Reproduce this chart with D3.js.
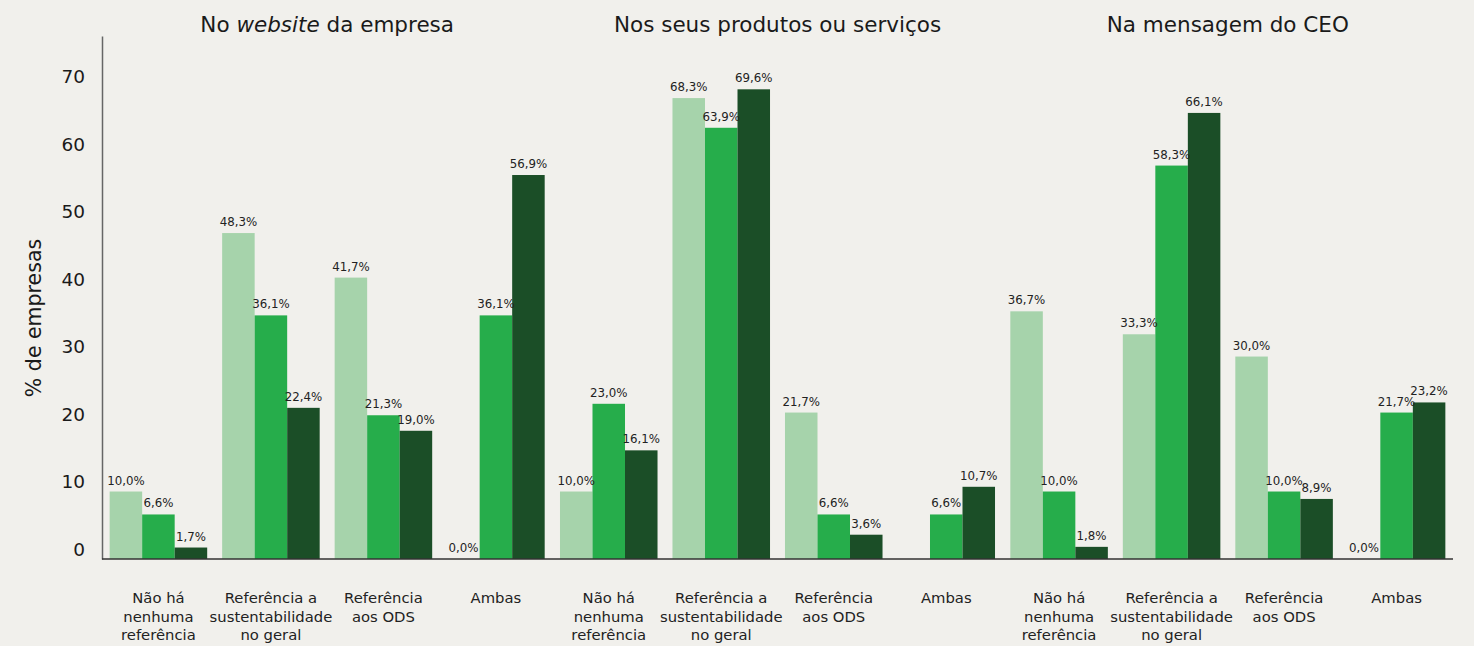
<!DOCTYPE html>
<html lang="pt">
<head>
<meta charset="utf-8">
<script src="https://cdn.jsdelivr.net/npm/d3@7"></script>
<style>
  html, body { margin: 0; padding: 0; background: #f1f0ec; }
  svg { display: block; font-family: "DejaVu Sans", "Noto Sans", sans-serif; }
</style>
</head>
<body>
<svg id="chart" width="1474" height="646"></svg>
<script>
// Panels (where the reference to sustainability appears)
const panels = ["website", "produtos", "ceo"];
// Category labels, one array of lines per category
const categories = ["nenhuma", "geral", "ods", "ambas"];
const categoryLines = [
  ["Não há", "nenhuma", "referência"],
  ["Referência a", "sustentabilidade", "no geral"],
  ["Referência", "aos ODS"],
  ["Ambas"]
];
const seriesKeys = ["s1", "s2", "s3"];
const seriesColors = ["#a6d3ab", "#26ad4b", "#1b4e27"];

// % of companies per category, one row per category: [s1, s2, s3]
const websiteValues = [
  [10.0, 6.6, 1.7],
  [48.3, 36.1, 22.4],
  [41.7, 21.3, 19.0],
  [0.0, 36.1, 56.9]
];
const produtosValues = [
  [10.0, 23.0, 16.1],
  [68.3, 63.9, 69.6],
  [21.7, 6.6, 3.6],
  [null, 6.6, 10.7]
];
const ceoValues = [
  [36.7, 10.0, 1.8],
  [33.3, 58.3, 66.1],
  [30.0, 10.0, 8.9],
  [0.0, 21.7, 23.2]
];
const yTicks = [0, 10, 20, 30, 40, 50, 60, 70];

const valuesByPanel = { website: websiteValues, produtos: produtosValues, ceo: ceoValues };

const svg = d3.select("#chart");
const left = 102, right = 1453, baseY = 559, topY = 36;

const x0 = d3.scaleBand().domain(panels).range([left, right]).padding(0);
const x1 = d3.scaleBand().domain(categories).range([0, x0.bandwidth()])
  .paddingInner(0.133).paddingOuter(0.068);
const x2 = d3.scaleBand().domain(seriesKeys).range([0, x1.bandwidth()]).padding(0);
const y = d3.scaleLinear().domain([0, 77.5]).range([baseY, topY]);

const fmt = v => d3.format(".1f")(v).replace(".", ",") + "%";

// Panel titles
const titles = svg.append("g").attr("class", "titles")
  .attr("font-size", 21.5).attr("fill", "#1a1a1a").attr("text-anchor", "middle");
const t1 = titles.append("text").attr("x", x0("website") + x0.bandwidth() / 2).attr("y", 32);
t1.append("tspan").text("No ");
t1.append("tspan").attr("font-style", "italic").text("website");
t1.append("tspan").text(" da empresa");
titles.append("text").attr("x", x0("produtos") + x0.bandwidth() / 2).attr("y", 32)
  .text("Nos seus produtos ou serviços");
titles.append("text").attr("x", x0("ceo") + x0.bandwidth() / 2).attr("y", 32)
  .text("Na mensagem do CEO");

// Y axis: line plus tick labels only
const yAxis = d3.axisLeft(y).tickValues(yTicks).tickSize(0).tickPadding(17);
const yg = svg.append("g").attr("transform", `translate(${left},0)`).call(yAxis);
yg.select(".domain").attr("stroke", "#666").attr("stroke-width", 1.5);
yg.selectAll(".tick text").attr("font-size", 18.5).attr("fill", "#1a1a1a")
  .attr("font-family", "DejaVu Sans, sans-serif").attr("dy", "-0.2em");

svg.append("text")
  .attr("transform", `translate(41,318) rotate(-90)`)
  .attr("text-anchor", "middle").attr("font-size", 20.5).attr("fill", "#1a1a1a")
  .text("% de empresas");

// Bars and value labels
panels.forEach(p => {
  const gp = svg.append("g").attr("transform", `translate(${x0(p)},0)`);
  categories.forEach((c, ci) => {
    const gc = gp.append("g").attr("transform", `translate(${x1(c)},0)`);
    const row = valuesByPanel[p][ci];
    const data = seriesKeys.map((k, si) => ({ key: k, value: row[si], color: seriesColors[si] }))
      .filter(d => d.value !== null);
    gc.selectAll("rect").data(data).join("rect")
      .attr("x", d => x2(d.key))
      .attr("y", d => y(d.value))
      .attr("width", x2.bandwidth())
      .attr("height", d => baseY - y(d.value))
      .attr("fill", d => d.color);
    gc.selectAll("text.val").data(data).join("text")
      .attr("class", "val")
      .attr("x", d => x2(d.key) + x2.bandwidth() / 2)
      .attr("y", d => y(d.value) - 7)
      .attr("text-anchor", "middle")
      .attr("font-size", 11.8).attr("fill", "#222")
      .text(d => fmt(d.value));
    // Category label
    const lbl = gc.append("text").attr("text-anchor", "middle")
      .attr("font-size", 14.8).attr("fill", "#222");
    categoryLines[ci].forEach((line, li) => {
      lbl.append("tspan").attr("x", x1.bandwidth() / 2).attr("y", 603 + li * 18.5).text(line);
    });
  });
});

// Baseline
svg.append("line").attr("x1", left).attr("x2", right).attr("y1", baseY).attr("y2", baseY)
  .attr("stroke", "#333").attr("stroke-width", 1.5);
</script>
</body>
</html>
